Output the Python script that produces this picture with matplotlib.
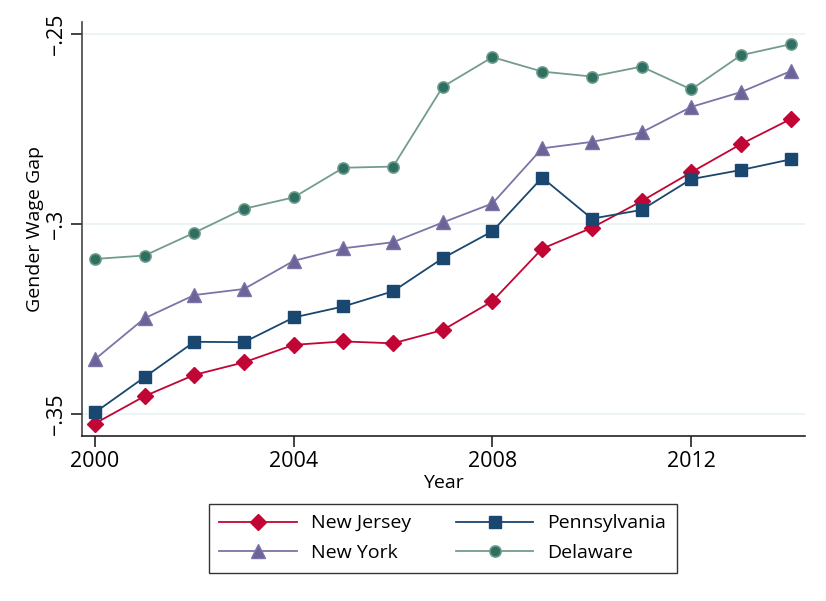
import matplotlib.pyplot as plt

years = list(range(2000, 2015))

new_jersey = [-0.3525, -0.3453, -0.3397, -0.3364, -0.3318, -0.3309, -0.3314, -0.3279,
              -0.3203, -0.3065, -0.3010, -0.2940, -0.2864, -0.2790, -0.2724]
pennsylvania = [-0.3496, -0.3403, -0.3310, -0.3311, -0.3246, -0.3217, -0.3177, -0.3090,
                -0.3019, -0.2878, -0.2986, -0.2963, -0.2882, -0.2858, -0.2830]
new_york = [-0.3356, -0.3248, -0.3187, -0.3171, -0.3097, -0.3064, -0.3048, -0.2996,
            -0.2946, -0.2801, -0.2784, -0.2759, -0.2692, -0.2653, -0.2598]
delaware = [-0.3092, -0.3083, -0.3023, -0.2960, -0.2930, -0.2852, -0.2849, -0.2639,
            -0.2561, -0.2599, -0.2612, -0.2586, -0.2646, -0.2556, -0.2527]

x_ticks = [2000, 2004, 2008, 2012]
y_ticks = [-0.35, -0.3, -0.25]
y_tick_labels = ['\u2212.35', '\u2212.3', '\u2212.25']

plt.rcParams['font.family'] = ['Open Sans', 'DejaVu Sans']

fig = plt.figure(figsize=(8.26, 6.01), dpi=100)
ax = fig.add_axes([0.0993, 0.2745, 0.8753, 0.689])

ax.plot(years, new_jersey, color='#C10534', lw=1.3, marker='D', ms=8.5,
        mec='#C10534', label='New Jersey', zorder=3)
ax.plot(years, pennsylvania, color='#1A476F', lw=1.3, marker='s', ms=8.5,
        mec='#1A476F', label='Pennsylvania', zorder=3)
ax.plot(years, new_york, color='#7B74A6', lw=1.3, marker='^', ms=9.5,
        mfc='#6C6399', mec='#7B74A6', label='New York', zorder=3)
ax.plot(years, delaware, color='#739C8E', lw=1.3, marker='o', ms=8,
        mfc='#2E6F62', mec='#6A9A88', mew=1.2, label='Delaware', zorder=3)

ax.set_xlim(1999.74, 2014.29)
ax.set_ylim(-0.35579, -0.24684)
ax.set_xticks(x_ticks)
ax.set_xticklabels([str(y) for y in x_ticks], fontsize=15.5)
ax.set_yticks(y_ticks)
ax.set_yticklabels(y_tick_labels, fontsize=15.5, rotation=90, va='center')
ax.grid(axis='y', color='#EAF2F3', lw=1.2, zorder=0)
ax.tick_params(length=8, width=1.2, color='#222222', pad=3)

for side in ['top', 'right']:
    ax.spines[side].set_visible(False)
ax.spines['left'].set_color('#444444')
ax.spines['bottom'].set_color('#222222')
ax.spines['left'].set_linewidth(1.2)
ax.spines['bottom'].set_linewidth(1.2)

ax.set_xlabel('Year', fontsize=14, labelpad=1)
ax.set_ylabel('Gender Wage Gap', fontsize=14, labelpad=1)

handles, labels = ax.get_legend_handles_labels()
order = [0, 2, 1, 3]
leg = fig.legend([handles[i] for i in order], [labels[i] for i in order],
                 loc='center', bbox_to_anchor=(0.536, 0.1045), ncol=2, fontsize=14,
                 frameon=True, fancybox=False, edgecolor='black',
                 handlelength=4.0, columnspacing=2.3, borderpad=0.55,
                 labelspacing=0.6, handletextpad=0.7)
leg.get_frame().set_linewidth(1.0)

fig.savefig('out.png', dpi=100)
